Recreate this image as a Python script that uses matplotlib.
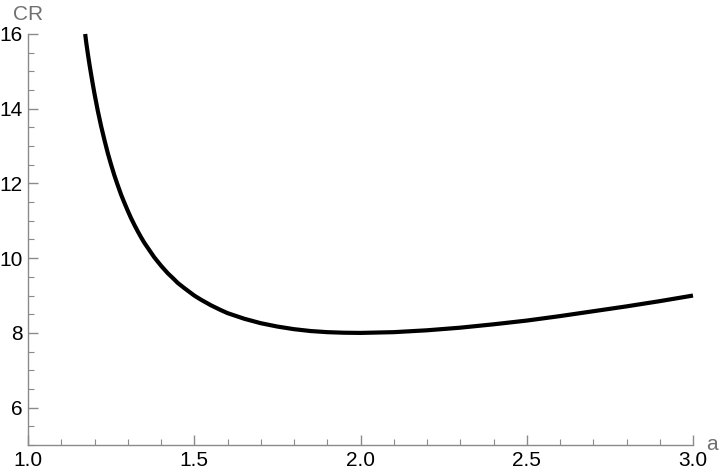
import matplotlib
matplotlib.use('Agg')
import matplotlib.pyplot as plt
from matplotlib.ticker import MultipleLocator

# Values
a_vals = [1.172, 1.175, 1.18, 1.185, 1.19, 1.195, 1.2, 1.21, 1.22, 1.23, 1.24, 1.25,
          1.26, 1.27, 1.28, 1.29, 1.3, 1.31, 1.32, 1.33, 1.34, 1.35, 1.36, 1.38, 1.39,
          1.4, 1.42, 1.44, 1.45, 1.47, 1.5, 1.52, 1.55, 1.58, 1.6, 1.65, 1.7, 1.75,
          1.8, 1.85, 1.9, 1.95, 2.0, 2.1, 2.2, 2.3, 2.4, 2.5, 2.6, 2.7, 2.8, 2.9, 3.0]
cr_vals = [16.0, 15.78, 15.47, 15.18, 14.91, 14.65, 14.4, 13.94, 13.53, 13.16, 12.81, 12.5,
           12.21, 11.95, 11.7, 11.48, 11.27, 11.07, 10.89, 10.72, 10.56, 10.41, 10.28, 10.02, 9.91,
           9.8, 9.6, 9.43, 9.34, 9.2, 9.0, 8.89, 8.74, 8.61, 8.53, 8.38, 8.26, 8.17,
           8.1, 8.05, 8.02, 8.005, 8.0, 8.02, 8.07, 8.14, 8.23, 8.33, 8.45, 8.58, 8.71, 8.85, 9.0]

x_ticks = [1.0, 1.5, 2.0, 2.5, 3.0]
y_ticks = [6, 8, 10, 12, 14, 16]

plt.rcParams['font.family'] = ['Liberation Sans', 'DejaVu Sans']
axis_grey = '#8a8a8a'

fig = plt.figure(figsize=(7.2, 4.74), dpi=100)
ax = fig.add_axes([28 / 720, 1 - 445 / 474, (693 - 28) / 720, (445 - 34) / 474])

ax.plot(a_vals, cr_vals, color='black', linewidth=3.0, solid_joinstyle='round',
        solid_capstyle='butt', clip_on=False)

ax.set_xlim(1.0, 3.0)
ax.set_ylim(5, 16)
ax.set_xticks(x_ticks)
ax.set_xticklabels([f'{v:.1f}' for v in x_ticks])
ax.set_yticks(y_ticks)
ax.xaxis.set_minor_locator(MultipleLocator(0.1))
ax.yaxis.set_minor_locator(MultipleLocator(0.5))

for side in ['top', 'right']:
    ax.spines[side].set_visible(False)
for side in ['left', 'bottom']:
    ax.spines[side].set_color(axis_grey)
    ax.spines[side].set_linewidth(1.0)

ax.tick_params(which='major', direction='in', length=7, width=1.0, color=axis_grey,
               labelsize=15, labelcolor='black', pad=4)
ax.tick_params(which='minor', direction='in', length=4, width=0.8, color=axis_grey)

fig.text(28 / 720, 1 - 14 / 474, 'CR', ha='center', va='center', fontsize=15, color='#707070')
fig.text(706 / 720, 1 - 444 / 474, 'a', ha='left', va='center', fontsize=15, color='#707070')

fig.savefig('out.png', dpi=100)
